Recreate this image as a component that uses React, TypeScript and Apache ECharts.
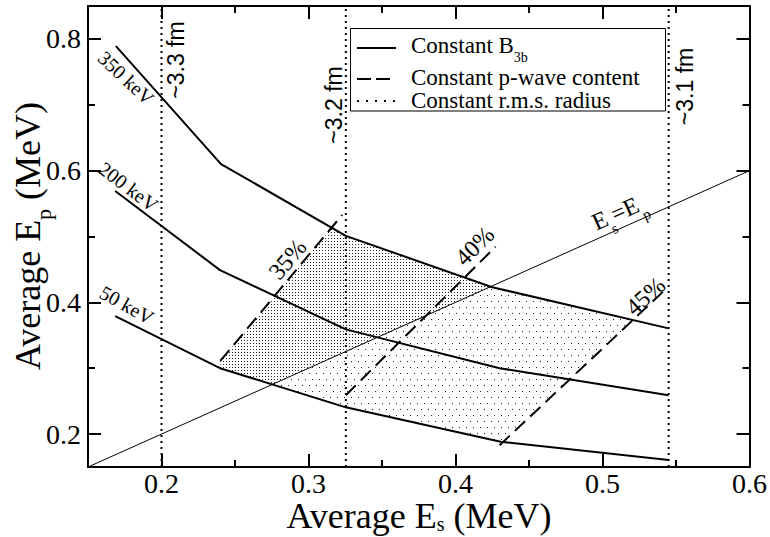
import React, { useEffect, useRef } from 'react';
import * as echarts from 'echarts';

const X_MIN = 0.15;
const X_MAX = 0.6;
const Y_MIN = 0.15;
const Y_MAX = 0.85;
const xMajorTicks = [0.2, 0.3, 0.4, 0.5, 0.6];
const xMinorTicks = [0.25, 0.35, 0.45, 0.55];
const yMajorTicks = [0.2, 0.4, 0.6, 0.8];
const yMinorTicks = [0.3, 0.5, 0.7];

// Constant B3b curves
const curve350 = [[0.169, 0.789], [0.2405, 0.61], [0.3254, 0.501], [0.425, 0.423], [0.545, 0.3605]];
const curve200 = [[0.1685, 0.569], [0.2398, 0.449], [0.3254, 0.359], [0.43, 0.3], [0.545, 0.259]];
const curve50 = [[0.1685, 0.379], [0.2398, 0.3], [0.3254, 0.2406], [0.4307, 0.1884], [0.545, 0.1606]];

// Constant p-wave content lines
const pw35 = [[0.24, 0.311], [0.323, 0.533]];
const pw40 = [[0.3254, 0.259], [0.4273, 0.4845]];
const pw45 = [[0.43, 0.183], [0.543, 0.42]];

// Constant r.m.s. radius lines (E_s values)
const rmsX = [0.2, 0.3254, 0.545];

// E_s = E_p diagonal
const diagonal = [[0.15, 0.15], [0.6, 0.6]];

// shaded regions
const denseRegion = [[0.24, 0.3], [0.24, 0.311], [0.3155, 0.512], [0.3254, 0.501], [0.425, 0.423], [0.275, 0.275]];
const lightRegion = [[0.275, 0.275], [0.425, 0.423], [0.5215, 0.373], [0.4307, 0.1884], [0.3254, 0.2406]];

// annotations (data coordinates)
const curveLabels = [
  { text: '350 keV', x: 0.176, y: 0.7407, angle: -43 },
  { text: '200 keV', x: 0.1775, y: 0.5756, angle: -37 },
  { text: '50 keV', x: 0.1764, y: 0.396, angle: -29 },
];
const pwLabels = [
  { text: '35%', x: 0.2857, y: 0.4653, angle: 50 },
  { text: '40%', x: 0.413, y: 0.4855, angle: 45 },
  { text: '45%', x: 0.5292, y: 0.4096, angle: 42 },
];
const rmsLabels = [
  { text: '~3.3 fm', x: 0.2099, y: 0.768 },
  { text: '~3.2 fm', x: 0.3175, y: 0.6997 },
  { text: '~3.1 fm', x: 0.5564, y: 0.7278 },
];
const diagLabel = { x: 0.5111, y: 0.5372, angle: 24 };

const SERIF = "'Liberation Serif', 'Times New Roman', serif";
const SANS = "'Liberation Sans', Arial, sans-serif";

function makePattern(w: number, h: number, dots: number[][], color: string): any {
  const c = document.createElement('canvas');
  c.width = w;
  c.height = h;
  const ctx = c.getContext('2d')!;
  ctx.fillStyle = color;
  dots.forEach(([x, y]) => ctx.fillRect(x, y, 1, 1));
  return { type: 'pattern', image: c, repeat: 'repeat', imageWidth: w, imageHeight: h };
}

function richText(parts: [string, boolean][], fs: number, family: string, subRatio = 0.62, padRatio = 0.74) {
  const sub = Math.round(fs * subRatio);
  const pad = Math.round(fs * padRatio);
  const text = parts.map(([t, s]) => `{${s ? 's' : 'n'}|${t}}`).join('');
  return {
    text,
    rich: {
      n: { fontSize: fs, fontFamily: family, fill: '#000', color: '#000', verticalAlign: 'top' },
      s: { fontSize: sub, fontFamily: family, fill: '#000', color: '#000', verticalAlign: 'top', padding: [pad, 0, 0, 0] },
    },
  };
}

function label(
  cx: number,
  cy: number,
  angleDeg: number,
  parts: [string, boolean][],
  fs: number,
  family: string,
  align = 'center',
  subRatio = 0.62,
  padRatio = 0.74
) {
  return {
    type: 'group',
    x: cx,
    y: cy,
    rotation: (angleDeg * Math.PI) / 180,
    silent: true,
    z: 100,
    children: [
      {
        type: 'text',
        x: 0,
        y: -fs / 2,
        z: 100,
        style: { ...richText(parts, fs, family, subRatio, padRatio), align, verticalAlign: 'top' },
      },
    ],
  };
}

const black = '#000';

function valueAxis(min: number, max: number, position: string, ticks: number[], len: number, showLine: boolean, labels: boolean, isY: boolean) {
  return {
    type: 'value',
    min,
    max,
    position,
    axisLine: { show: showLine, onZero: false, lineStyle: { color: black, width: 2 } },
    axisTick: { show: true, inside: true, length: len, customValues: ticks, lineStyle: { color: black, width: 2 } },
    axisLabel: labels
      ? {
          show: true,
          customValues: ticks,
          formatter: (v: number) => v.toFixed(1),
          fontFamily: SERIF,
          fontSize: 28,
          color: black,
          margin: isY ? 7 : 2,
        }
      : { show: false },
    splitLine: { show: false },
  };
}

export default function App() {
  const ref = useRef<HTMLDivElement>(null);
  useEffect(() => {
    const chart = echarts.init(ref.current!, null, { renderer: 'svg' });
    const densePattern = makePattern(3, 3, [[1, 1]], '#222');
    const lightPattern = makePattern(7, 12, [[1, 1], [4, 7]], '#222');

    const lineSeries = (data: number[][], width: number, type: any) => ({
      type: 'line',
      data,
      symbol: 'none',
      silent: true,
      z: 3,
      lineStyle: { color: black, width, type },
    });

    const regionSeries = (poly: number[][], fill: any) => ({
      type: 'custom',
      silent: true,
      z: 1,
      data: [[0.3, 0.3]],
      renderItem: (_p: any, api: any) => ({
        type: 'polygon',
        shape: { points: poly.map((pt) => api.coord(pt)) },
        style: { fill, stroke: 'none' },
      }),
    });

    chart.setOption({
      animation: false,
      grid: { left: 88, right: 20, top: 6, bottom: 70, containLabel: false },
      xAxis: [
        valueAxis(X_MIN, X_MAX, 'bottom', xMajorTicks, 13, true, true, false),
        valueAxis(X_MIN, X_MAX, 'bottom', xMinorTicks, 7, false, false, false),
        valueAxis(X_MIN, X_MAX, 'top', xMajorTicks, 13, true, false, false),
        valueAxis(X_MIN, X_MAX, 'top', xMinorTicks, 7, false, false, false),
      ],
      yAxis: [
        valueAxis(Y_MIN, Y_MAX, 'left', yMajorTicks, 13, true, true, true),
        valueAxis(Y_MIN, Y_MAX, 'left', yMinorTicks, 7, false, false, true),
        valueAxis(Y_MIN, Y_MAX, 'right', yMajorTicks, 13, true, false, true),
        valueAxis(Y_MIN, Y_MAX, 'right', yMinorTicks, 7, false, false, true),
      ],
      series: [
        regionSeries(lightRegion, lightPattern),
        regionSeries(denseRegion, densePattern),
        lineSeries(diagonal, 1, 'solid'),
        ...rmsX.map((x) => lineSeries([[x, Y_MIN], [x, Y_MAX]], 2, [2, 4])),
        lineSeries(pw35, 2, [14, 7]),
        lineSeries(pw40, 2, [14, 7]),
        lineSeries(pw45, 2, [14, 7]),
        lineSeries(curve350, 2, 'solid'),
        lineSeries(curve200, 2, 'solid'),
        lineSeries(curve50, 2, 'solid'),
      ],
    });

    const toPx = (x: number, y: number) =>
      chart.convertToPixel({ xAxisIndex: 0, yAxisIndex: 0 } as any, [x, y]) as number[];

    const graphics: any[] = [];
    curveLabels.forEach((l) => {
      const [px, py] = toPx(l.x, l.y);
      graphics.push(label(px, py, l.angle, [[l.text, false]], 20, SERIF));
    });
    pwLabels.forEach((l) => {
      const [px, py] = toPx(l.x, l.y);
      graphics.push(label(px, py, l.angle, [[l.text, false]], 24, SERIF));
    });
    rmsLabels.forEach((l) => {
      const [px, py] = toPx(l.x, l.y);
      graphics.push(label(px, py, 90, [[l.text, false]], 23, SANS));
    });
    {
      const [px, py] = toPx(diagLabel.x, diagLabel.y);
      graphics.push(label(px, py, diagLabel.angle, [['E', false], ['s', true], ['=E', false], ['p', true]], 24, SERIF));
    }
    // axis titles
    graphics.push(label(419, 516, 0, [['Average E', false], ['s', true], [' (MeV)', false]], 36, SERIF, 'center', 0.56, 0.45));
    graphics.push(label(28, 236, 90, [['Average E', false], ['p', true], [' (MeV)', false]], 36, SERIF, 'center', 0.6, 0.62));

    // legend
    graphics.push({
      type: 'rect',
      z: 100,
      silent: true,
      shape: { x: 350.5, y: 28.5, width: 315, height: 82.5 },
      style: { fill: '#fff', stroke: black, lineWidth: 1 },
    });
    graphics.push({ type: 'line', z: 101, silent: true, shape: { x1: 357, y1: 48, x2: 396, y2: 48 }, style: { stroke: black, lineWidth: 2 } });
    graphics.push({ type: 'line', z: 101, silent: true, shape: { x1: 357, y1: 79, x2: 392, y2: 79 }, style: { stroke: black, lineWidth: 2, lineDash: [14, 5] } });
    graphics.push({ type: 'line', z: 101, silent: true, shape: { x1: 357, y1: 101, x2: 396, y2: 101 }, style: { stroke: black, lineWidth: 2, lineDash: [2, 7] } });
    graphics.push(label(411, 45, 0, [['Constant B', false], ['3b', true]], 23, SERIF, 'left'));
    graphics.push(label(411, 77, 0, [['Constant p-wave content', false]], 23, SERIF, 'left'));
    graphics.push(label(411, 100, 0, [['Constant r.m.s. radius', false]], 23, SERIF, 'left'));

    chart.setOption({ graphic: graphics });
    return () => chart.dispose();
  }, []);
  return <div ref={ref} style={{ position: 'absolute', left: 0, top: 0, width: 770, height: 537 }} />;
}
